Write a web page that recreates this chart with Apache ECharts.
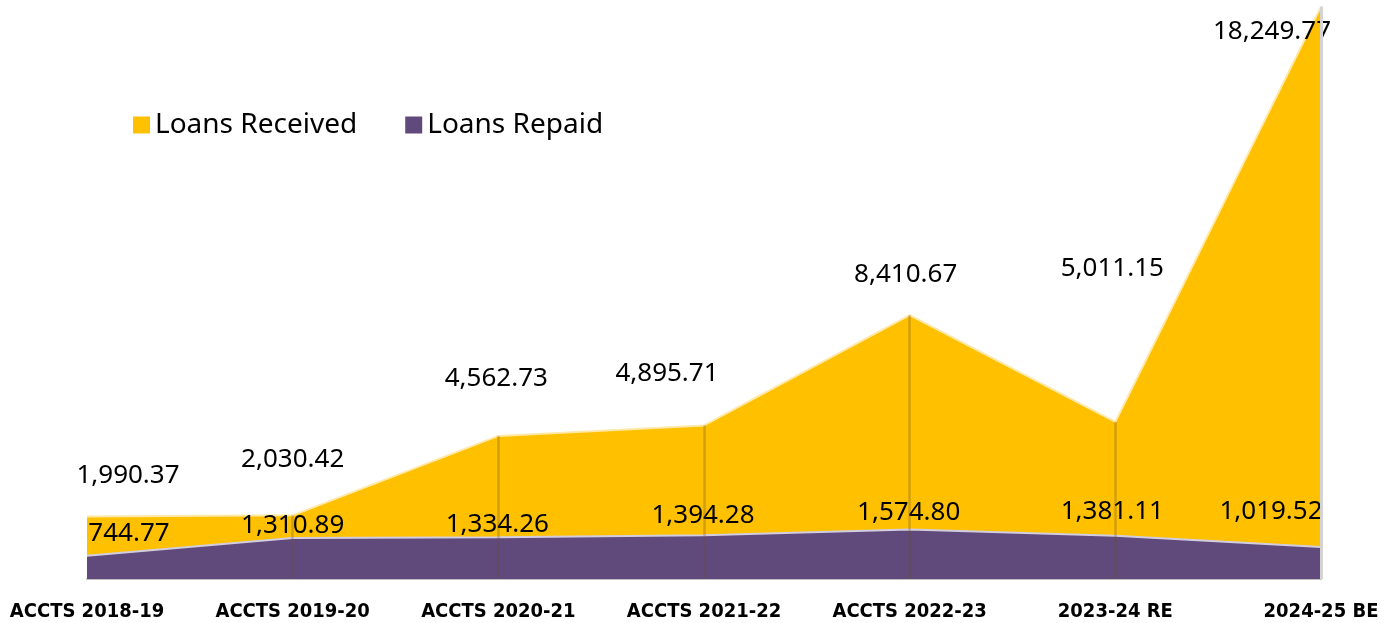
<!DOCTYPE html>
<html>
<head>
<meta charset="utf-8">
<script src="https://cdn.jsdelivr.net/npm/echarts@6/dist/echarts.min.js"></script>
<style>
  html, body { margin: 0; padding: 0; background: #fff; }
  #main { width: 1388px; height: 623px; }
</style>
</head>
<body>
<div id="main"></div>
<script>
// chart data
var categories = ['ACCTS 2018-19', 'ACCTS 2019-20', 'ACCTS 2020-21', 'ACCTS 2021-22', 'ACCTS 2022-23', '2023-24 RE', '2024-25 BE'];
var loansReceived = [1990.37, 2030.42, 4562.73, 4895.71, 8410.67, 5011.15, 18249.77];
var loansRepaid = [744.77, 1310.89, 1334.26, 1394.28, 1574.80, 1381.11, 1019.52];

// label nudges (px) so they sit like the original
var receivedOffsets = [[41, -41], [0, -56], [-2, -57], [-37, -52], [-4, -41], [-3, -153], [-49, 25]];
var repaidOffsets = [[42, -22], [0, -12], [-1, -13], [-1, -20], [-1, -17], [-3, -24], [-50, -35]];

var YELLOW = '#FFC000';
var PURPLE = '#604A7B';

function fmt(v) {
  return v.toLocaleString('en-US', { minimumFractionDigits: 2, maximumFractionDigits: 2 });
}

function withLabels(values, offsets) {
  return values.map(function (v, i) {
    return { value: v, label: { offset: offsets[i] } };
  });
}

var chart = echarts.init(document.getElementById('main'));

// drop lines from axis up to loans received
var dropLines = loansReceived.map(function (v, i) {
  var last = i === loansReceived.length - 1;
  return [
    { coord: [i, 0], lineStyle: { color: last ? '#d4d4d4' : 'rgba(110,80,40,0.3)', width: last ? 3 : 2.5, type: 'solid' } },
    { coord: [i, v] }
  ];
}).slice(1);

var labelStyle = {
  show: true,
  position: 'inside',
  color: '#000',
  fontFamily: 'Noto Sans',
  fontSize: 26,
  formatter: function (p) { return fmt(p.value); }
};

var option = {
  animation: false,
  legend: {
    left: 128,
    top: 106,
    icon: 'rect',
    itemWidth: 17,
    itemHeight: 17,
    itemGap: 48,
    textStyle: { fontFamily: 'Noto Sans', fontSize: 28, color: '#000' },
    data: ['Loans Received', 'Loans Repaid']
  },
  grid: {
    left: 87,
    right: 67,
    top: 5,
    bottom: 44
  },
  xAxis: {
    type: 'category',
    boundaryGap: false,
    data: categories,
    axisLine: { lineStyle: { color: '#bfbfbf', width: 2 } },
    axisTick: { show: false },
    axisLabel: {
      interval: 0,
      margin: 23,
      color: '#000',
      fontFamily: 'DejaVu Sans Condensed',
      fontWeight: 'bold',
      fontSize: 20
    }
  },
  yAxis: {
    type: 'value',
    min: 0,
    max: 18300,
    show: false,
    splitLine: { show: false }
  },
  series: [
    {
      name: 'Loans Received',
      type: 'line',
      symbol: 'circle',
      symbolSize: 0,
      itemStyle: { color: YELLOW },
      lineStyle: { color: '#FFE9A8', width: 2 },
      areaStyle: { color: YELLOW, opacity: 1 },
      label: labelStyle,
      data: withLabels(loansReceived, receivedOffsets),
      z: 2
    },
    {
      name: 'Loans Repaid',
      type: 'line',
      symbol: 'circle',
      symbolSize: 0,
      itemStyle: { color: PURPLE },
      lineStyle: { color: '#d3cde0', width: 2 },
      areaStyle: { color: PURPLE, opacity: 1 },
      label: labelStyle,
      data: withLabels(loansRepaid, repaidOffsets),
      markLine: {
        silent: true,
        symbol: 'none',
        label: { show: false },
        data: dropLines
      },
      z: 3
    }
  ]
};

chart.setOption(option);
</script>
</body>
</html>
